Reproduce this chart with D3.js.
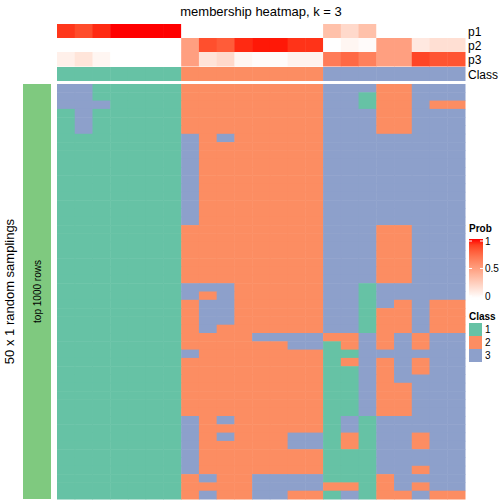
<!DOCTYPE html>
<html><head><meta charset="utf-8">
<script src="https://cdn.jsdelivr.net/npm/d3@7"></script>
<style>body{margin:0;background:#fff}svg{display:block;font-family:"Liberation Sans",Arial,sans-serif}</style>
</head><body>
<svg id="c" width="504" height="504"></svg>
<script>
const columns = d3.range(23).map(i => "s" + (i + 1));
const p1 = [0.92,0.86,0.95,1,1,1,1, 0,0,0,0,0,0,0,0, 0.33,0.2,0.33,0,0,0,0,0];
const p2 = [0,0,0,0,0,0,0, 0.5,0.85,0.8,0.95,0.98,0.98,0.93,0.93, 0,0.05,0.02,0.5,0.5,0.12,0.17,0.17];
const p3 = [0.08,0.14,0.05,0,0,0,0, 0.5,0.15,0.2,0.05,0.02,0.02,0.07,0.07, 0.67,0.75,0.65,0.5,0.5,0.88,0.83,0.83];
const classes = [1,1,1,1,1,1,1, 2,2,2,2,2,2,2,2, 3,3,3,3,3,3,3,3];
const annoNames = ["p1","p2","p3"];
const classLevels = [1,2,3];
const probTicks = [0,0.5,1];
const samplings = [
"33111112222222233322333",
"33111112222222233122333",
"33311112222222233122322",
"13111112222222233322333",
"13111112222222233322333",
"13111112222222233322333",
"11111113232222233333333",
"11111113222222233333333",
"11111113222222233333333",
"11111113222222233333333",
"11111113222222233333333",
"11111113222222233333333",
"11111113222222233333333",
"11111113222222233333333",
"11111113222222233333333",
"11111113222222233333333",
"11111113222222233333333",
"11111112222222233322333",
"11111112222222233322333",
"11111112222222233322333",
"11111112222222233322333",
"11111112222222233322333",
"11111112222222233322333",
"11111112222222233322333",
"11111113332222233133333",
"11111113232222233133333",
"11111112332222233132322",
"11111112332222233122322",
"11111112332222233122322",
"11111112322222233122322",
"11111112222333322323233",
"11111112222223312323233",
"11111113222222211333333",
"11111112222222212323233",
"11111112222222211323233",
"11111112222222211323333",
"11111112222222211322333",
"11111112222222211322333",
"11111112222222211322333",
"11111112222222211322333",
"11111113232222213133333",
"11111113222222213133333",
"11111113232223312133233",
"11111113222223312133233",
"11111113222222211133333",
"11111113222222211133333",
"11111113222222211133233",
"11111112322333311123333",
"11111112222333322123233",
"11111112322332213122322"
];

const classColor = d3.scaleOrdinal().domain(classLevels).range(["#66c2a5","#fc8d62","#8da0cb"]);
const probColor = d3.scaleLinear().domain([0,1]).range(["#ffffff","#ff0000"]).interpolate(d3.interpolateLab);

const svg = d3.select("#c");
const x = d3.scaleBand().domain(d3.range(columns.length)).range([57,465]);
const yRow = d3.scaleBand().domain(d3.range(samplings.length)).range([84,499]);
const yAnno = d3.scaleBand().domain(annoNames).range([24,66]);

// title
svg.append("text").attr("x",261).attr("y",16).attr("text-anchor","middle")
  .attr("font-size",13).text("membership heatmap, k = 3");

// prob annotation rows
const probs = [p1,p2,p3];
annoNames.forEach((nm,k) => {
  svg.append("g").selectAll("rect").data(probs[k]).join("rect")
    .attr("x",(d,i)=>x(i)).attr("y",yAnno(nm))
    .attr("width",x.bandwidth()+0.5).attr("height",yAnno.bandwidth()+0.5)
    .attr("fill",d=>probColor(d));
  svg.append("text").attr("x",468).attr("y",yAnno(nm)+yAnno.bandwidth()/2+4.5)
    .attr("font-size",12).text(nm);
});
// class row
svg.append("g").selectAll("rect").data(classes).join("rect")
  .attr("x",(d,i)=>x(i)).attr("y",67).attr("width",x.bandwidth()+0.5).attr("height",14)
  .attr("fill",d=>classColor(d));
svg.append("text").attr("x",468).attr("y",78.5).attr("font-size",12).text("Class");

// main heatmap
const cells = [];
samplings.forEach((row,r) => row.split("").forEach((c,i) => cells.push({r,i,v:+c})));
svg.append("g").selectAll("rect").data(cells).join("rect")
  .attr("x",d=>x(d.i)).attr("y",d=>yRow(d.r))
  .attr("width",x.bandwidth()+0.5).attr("height",yRow.bandwidth()+0.5)
  .attr("fill",d=>classColor(d.v));

// left bar
svg.append("rect").attr("x",23).attr("y",84).attr("width",28).attr("height",415).attr("fill","#7fc97f");
svg.append("text").attr("transform","translate(40.5,291.5) rotate(-90)").attr("text-anchor","middle")
  .attr("font-size",10).text("top 1000 rows");
svg.append("text").attr("transform","translate(14,291.5) rotate(-90)").attr("text-anchor","middle")
  .attr("font-size",13).text("50 x 1 random samplings");

// Prob legend
svg.append("text").attr("x",469).attr("y",232).attr("font-size",10).attr("font-weight","bold").text("Prob");
const defs = svg.append("defs");
const grad = defs.append("linearGradient").attr("id","pg").attr("x1",0).attr("y1",1).attr("x2",0).attr("y2",0);
d3.range(0,1.01,0.1).forEach(t => grad.append("stop").attr("offset",t).attr("stop-color",probColor(t)));
const yLeg = d3.scaleLinear().domain([0,1]).range([296,241]);
svg.append("rect").attr("x",469).attr("y",yLeg(1)-2).attr("width",14).attr("height",yLeg(0)-yLeg(1)+4).attr("fill","url(#pg)");
probTicks.forEach(t => {
  svg.append("line").attr("x1",469).attr("x2",472).attr("y1",yLeg(t)).attr("y2",yLeg(t)).attr("stroke","#fff");
  svg.append("line").attr("x1",480).attr("x2",483).attr("y1",yLeg(t)).attr("y2",yLeg(t)).attr("stroke","#fff");
  svg.append("text").attr("x",485).attr("y",yLeg(t)+3.5).attr("font-size",10).text(t);
});

// Class legend
svg.append("text").attr("x",469).attr("y",320).attr("font-size",10).attr("font-weight","bold").text("Class");
const yCl = d3.scaleBand().domain(classLevels).range([323,362]);
classLevels.forEach(c => {
  svg.append("rect").attr("x",469).attr("y",yCl(c)).attr("width",13).attr("height",yCl.bandwidth()).attr("fill",classColor(c));
  svg.append("text").attr("x",485).attr("y",yCl(c)+yCl.bandwidth()/2+3.5).attr("font-size",10).text(c);
});
</script>
</body></html>
